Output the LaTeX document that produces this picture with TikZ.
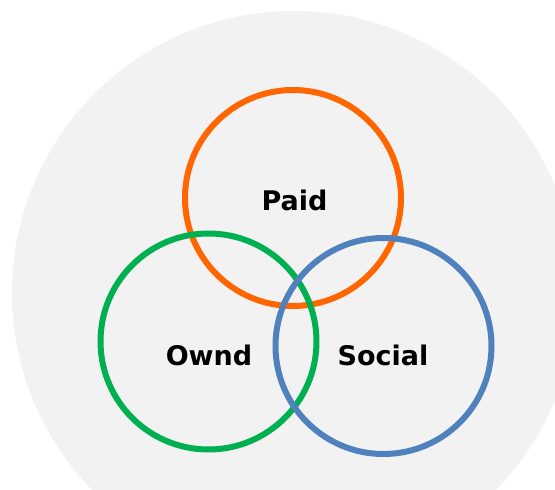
\documentclass[tikz,border=0pt]{standalone}
\usepackage{fontspec}
\setmainfont{DejaVu Sans}
\definecolor{bggray}{HTML}{F2F2F2}
\definecolor{paidorange}{HTML}{FF6600}
\definecolor{owndgreen}{HTML}{00B050}
\definecolor{socialblue}{HTML}{4F81BD}
\begin{document}
\begin{tikzpicture}[x=1pt,y=-1pt,line cap=butt,line join=miter,font=\fontsize{27}{32}\selectfont\bfseries]
			\tikzset{ring/.style={draw,circle,line width=6pt,minimum size=216pt,inner sep=0pt},
				word/.style={anchor=base,inner sep=0pt}
			}
			\useasboundingbox (0,0) rectangle (555,490);
			\clip (0,0) rectangle (555,490);
			\fill[white] (0,0) rectangle (555,490);
			\fill[bggray] (294,293) circle (282);
			\node[ring,paidorange] (paid) at (293,198) {};
			\node[ring,owndgreen] (ownd) at (208.5,341.5) {};
			\node[ring,socialblue] (social) at (383.5,346) {};
			\node[word] (paidtext) at (294.5,210) {Paid};
			\node[word] (owndtext) at (209,365) {Ownd};
			\node[word] (socialtext) at (383,365) {Social};
		\end{tikzpicture}
\end{document}
